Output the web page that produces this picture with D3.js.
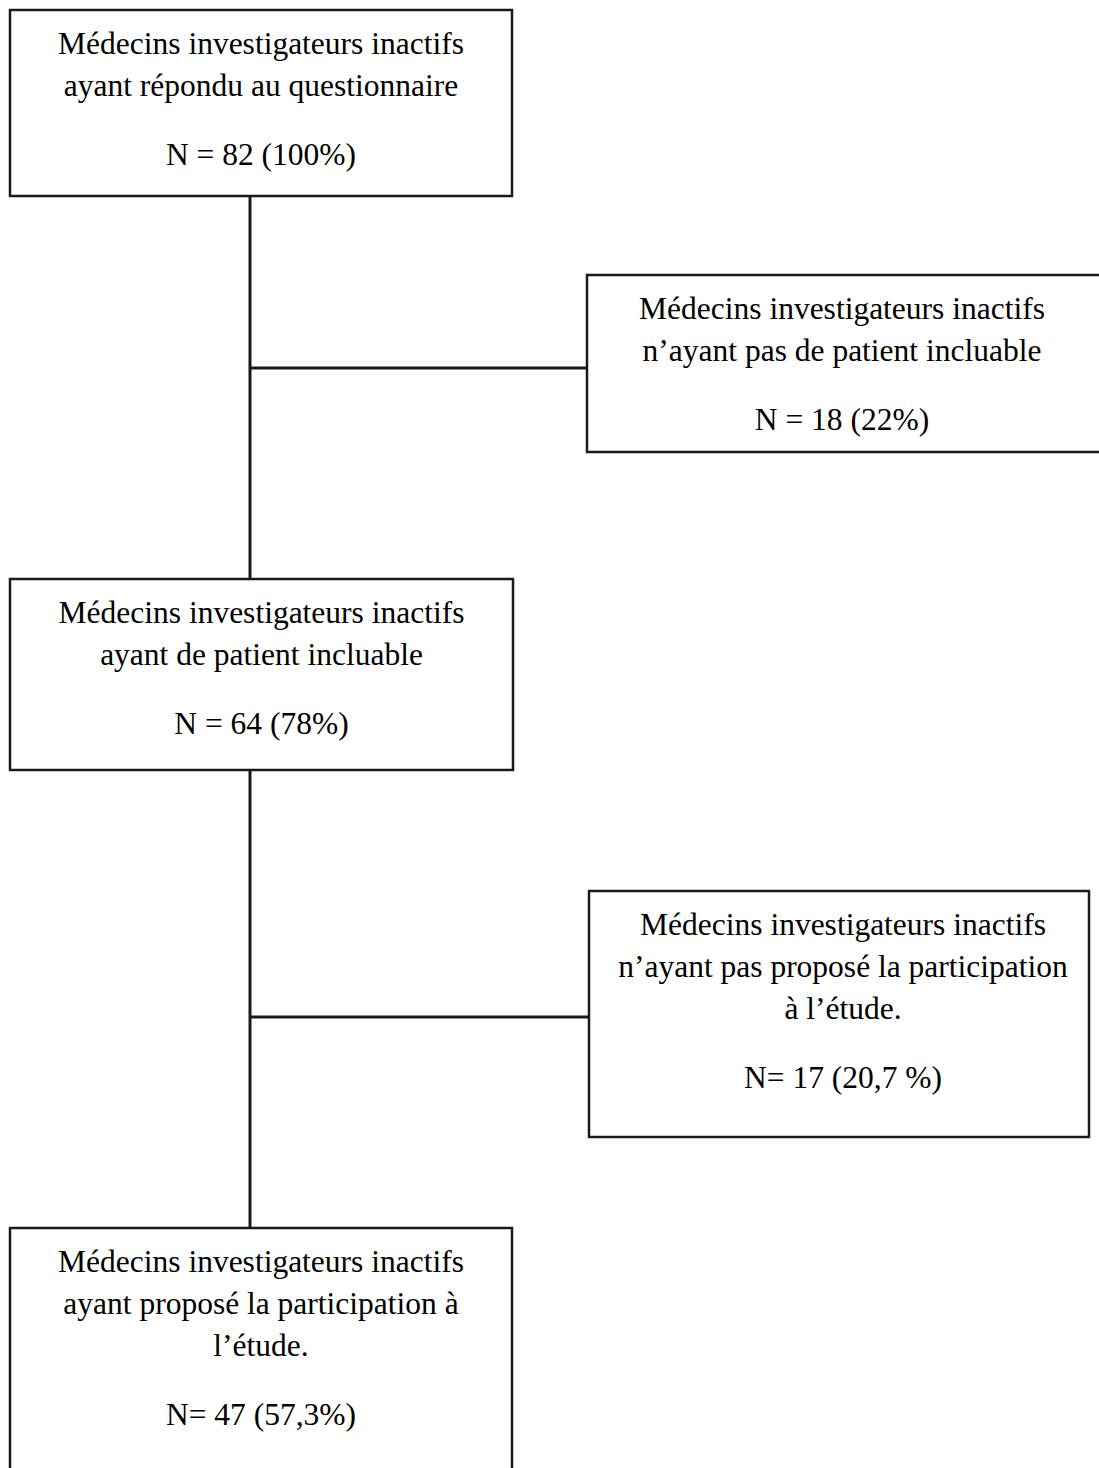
<!DOCTYPE html>
<html>
<head>
<meta charset="utf-8">
<script src="https://cdn.jsdelivr.net/npm/d3@7"></script>
<style>
  body { margin: 0; background: #fff; }
  svg text { font-family: "Liberation Serif", "Times New Roman", serif; }
</style>
</head>
<body>
<div class="chart"></div>
<script>
// Flowchart content
const boxLines = [
    ["Médecins investigateurs inactifs", "ayant répondu au questionnaire"],
    ["Médecins investigateurs inactifs", "n\u2019ayant pas de patient incluable"],
    ["Médecins investigateurs inactifs", "ayant de patient incluable"],
    ["Médecins investigateurs inactifs", "n\u2019ayant pas proposé la participation", "à l\u2019étude."],
    ["Médecins investigateurs inactifs", "ayant proposé la participation à", "l\u2019étude."]
];
const counts = [82, 18, 64, 17, 47];
const countLabels = ["N = 82 (100%)", "N = 18 (22%)", "N = 64 (78%)", "N= 17 (20,7 %)", "N= 47 (57,3%)"];

const svgWidth = 1099;
const svgHeight = 1468;

// box layout (main column on left, exclusions on right)
const layout = [
    { x: 10, y: 10, w: 502, h: 186 },
    { x: 587, y: 275, w: 520, h: 177 },
    { x: 10, y: 579, w: 503, h: 191 },
    { x: 589, y: 891, w: 500, h: 246 },
    { x: 10, y: 1228, w: 502, h: 260 }
];
// y of the branch line going to each exclusion box
const branchY = [368, 1017];

const spineX = 250;
const fontSize = 31.5;
const firstLine = 44;
const lineGap = 42;
const countGap = 69;

let svg = d3.select(".chart")
    .append("svg")
    .attr("width", svgWidth)
    .attr("height", svgHeight);

const nodes = boxLines.map((lines, i) => ({
    lines: lines,
    count: counts[i],
    label: countLabels[i],
    ...layout[i]
}));

// connectors
const links = svg.append("g")
    .attr("stroke", "#1a1a1a")
    .attr("stroke-width", 3)
    .attr("fill", "none");

const main = [nodes[0], nodes[2], nodes[4]];
const side = [nodes[1], nodes[3]];

for (let i = 0; i < main.length - 1; i++) {
    links.append("line")
        .attr("x1", spineX).attr("x2", spineX)
        .attr("y1", main[i].y + main[i].h)
        .attr("y2", main[i + 1].y);
}

side.forEach((d, i) => {
    links.append("line")
        .attr("x1", spineX).attr("x2", d.x)
        .attr("y1", branchY[i]).attr("y2", branchY[i]);
});

// boxes
const box = svg.selectAll("g.box")
    .data(nodes)
    .enter()
    .append("g")
    .attr("class", "box")
    .attr("transform", d => `translate(${d.x}, ${d.y})`);

box.append("rect")
    .attr("width", d => d.w)
    .attr("height", d => d.h)
    .attr("fill", "#fff")
    .attr("stroke", "#1a1a1a")
    .attr("stroke-width", 2.5);

box.each(function (d) {
    const g = d3.select(this);
    const cx = Math.min(d.w, svgWidth - d.x - 10) / 2 + 4;
    d.lines.forEach((t, j) => {
        g.append("text")
            .attr("x", d.x > 500 ? cx : d.w / 2)
            .attr("y", firstLine + j * lineGap)
            .attr("text-anchor", "middle")
            .attr("font-size", fontSize + "px")
            .attr("fill", "#000")
            .text(t);
    });
    g.append("text")
        .attr("x", d.x > 500 ? cx : d.w / 2)
        .attr("y", firstLine + (d.lines.length - 1) * lineGap + countGap)
        .attr("text-anchor", "middle")
        .attr("font-size", fontSize + "px")
        .attr("fill", "#000")
        .text(d.label);
});
</script>
</body>
</html>
